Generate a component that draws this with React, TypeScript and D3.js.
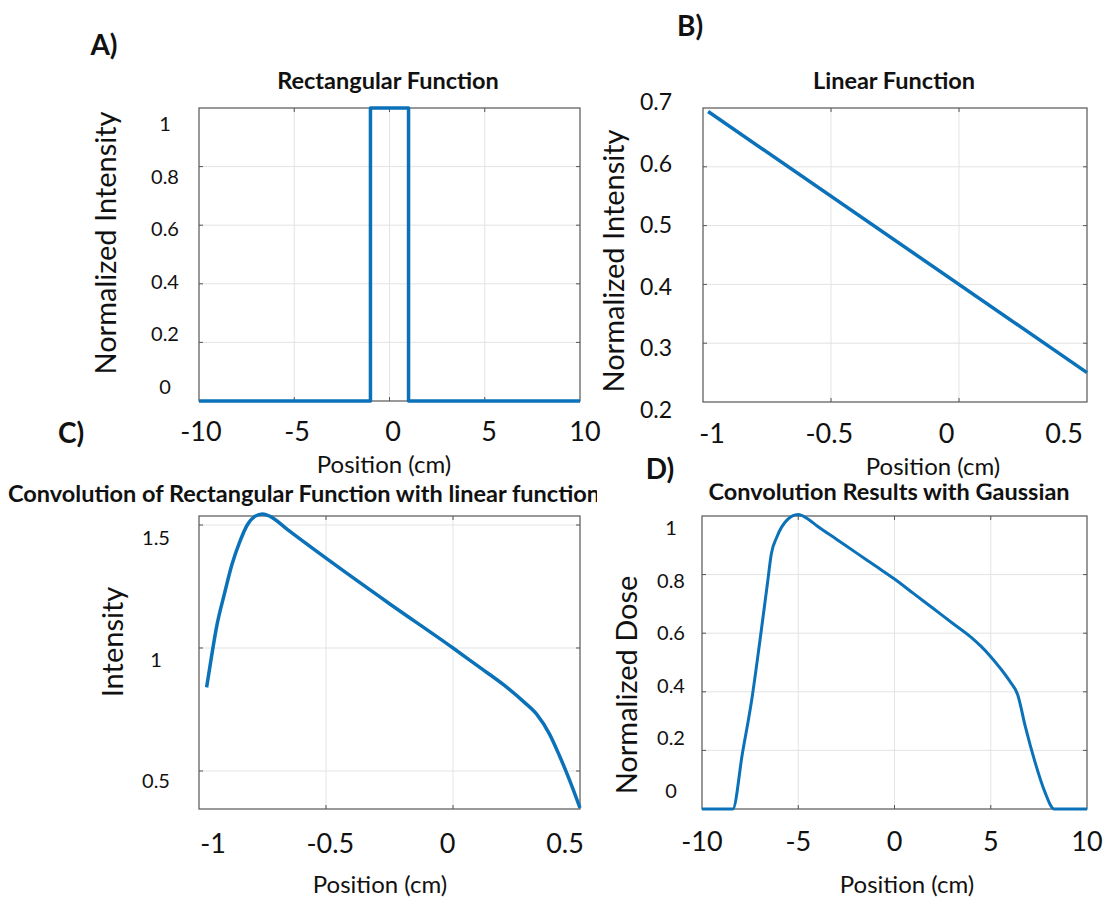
import React from "react";
import * as d3 from "d3";

// ---------- data ----------
const rectX = [-10, -1, -1, 1, 1, 10];
const rectY = [0, 0, 1, 1, 0, 0];

const linX = [-0.98, 0.5];
const linY = [0.694, 0.25];

const convLinX = [-0.97, -0.95, -0.93, -0.9, -0.87, -0.84, -0.81, -0.78, -0.75, -0.72, -0.65, -0.5, -0.25, 0, 0.1, 0.2, 0.28, 0.33, 0.38, 0.42, 0.46, 0.5];
const convLinY = [0.84, 0.97, 1.09, 1.22, 1.34, 1.43, 1.5, 1.535, 1.545, 1.535, 1.48, 1.365, 1.18, 1.0, 0.925, 0.85, 0.78, 0.73, 0.65, 0.56, 0.46, 0.35];

const convGaussX = [-10, -8.4, -7.9, -7.4, -7.0, -6.6, -6.4, -6.1, -5.6, -5.0, -4.5, -4, -3, -2, -1, 0, 1, 2, 3, 4, 4.5, 5, 5.5, 6, 6.4, 6.8, 7.3, 7.8, 8.3, 10];
const convGaussY = [0, 0, 0.19, 0.38, 0.57, 0.77, 0.87, 0.93, 0.985, 1.005, 0.99, 0.965, 0.92, 0.875, 0.83, 0.785, 0.735, 0.685, 0.635, 0.585, 0.555, 0.52, 0.48, 0.435, 0.39, 0.28, 0.16, 0.06, 0, 0];

const ticksA_X = [-10, -5, 0, 5, 10];
const ticksA_Y = [0, 0.2, 0.4, 0.6, 0.8, 1];
const ticksB_X = [-1, -0.5, 0, 0.5];
const ticksB_Y = [0.2, 0.3, 0.4, 0.5, 0.6, 0.7];
const ticksC_X = [-1, -0.5, 0, 0.5];
const ticksC_Y = [0.5, 1, 1.5];
const ticksD_X = [-10, -5, 0, 5, 10];
const ticksD_Y = [0, 0.2, 0.4, 0.6, 0.8, 1];

const BLUE = "#0b72b9";
const FONT = "Lato, 'Open Sans', sans-serif";

type PanelCfg = {
  box: [number, number, number, number]; // x0,x1,y0,y1
  xDom: [number, number];
  yDom: [number, number];
  xs: number[];
  ys: number[];
  xTicks: number[];
  yTicks: number[];
  xLab: [number, number, number];
  yLab: [number, number, number];
  yLabSize: number;
  curve: any;
  width: number;
};

function Panel({ c }: { c: PanelCfg }) {
  const [x0, x1, y0, y1] = c.box;
  const x = d3.scaleLinear().domain(c.xDom).range([x0, x1]);
  const y = d3.scaleLinear().domain(c.yDom).range([y1, y0]);
  const xl = d3.scaleLinear().domain([c.xTicks[0], c.xTicks[c.xTicks.length - 1]]).range([c.xLab[0], c.xLab[1]]);
  const yl = d3.scaleLinear().domain([c.yTicks[0], c.yTicks[c.yTicks.length - 1]]).range([c.yLab[0], c.yLab[1]]);
  const pts = c.xs.map((v, i) => [v, c.ys[i]] as [number, number]);
  const line = d3.line<[number, number]>().x(d => x(d[0])).y(d => y(d[1])).curve(c.curve);
  const gx = c.xTicks.filter(t => x(t) > x0 + 1 && x(t) < x1 - 1);
  const gy = c.yTicks.filter(t => y(t) > y0 + 1 && y(t) < y1 - 1);
  const fmt = (v: number) => String(v);
  return (
    <g>
      <rect x={x0} y={y0} width={x1 - x0} height={y1 - y0} fill="#fff" />
      {gx.map(t => (
        <line key={"gx" + t} x1={x(t)} x2={x(t)} y1={y0} y2={y1} stroke="#e3e3e3" strokeWidth={1} />
      ))}
      {gy.map(t => (
        <line key={"gy" + t} x1={x0} x2={x1} y1={y(t)} y2={y(t)} stroke="#e3e3e3" strokeWidth={1} />
      ))}
      {gx.map(t => (
        <g key={"tx" + t}>
          <line x1={x(t)} x2={x(t)} y1={y1} y2={y1 - 4} stroke="#555" />
          <line x1={x(t)} x2={x(t)} y1={y0} y2={y0 + 4} stroke="#555" />
        </g>
      ))}
      {gy.map(t => (
        <g key={"ty" + t}>
          <line x1={x0} x2={x0 + 4} y1={y(t)} y2={y(t)} stroke="#555" />
          <line x1={x1} x2={x1 - 4} y1={y(t)} y2={y(t)} stroke="#555" />
        </g>
      ))}
      <rect x={x0} y={y0} width={x1 - x0} height={y1 - y0} fill="none" stroke="#555" strokeWidth={1.2} />
      <path d={line(pts) || ""} fill="none" stroke={BLUE} strokeWidth={c.width} strokeLinejoin="round" />
      {c.xTicks.map(t => (
        <text key={"lx" + t} x={xl(t)} y={c.xLab[2]} textAnchor="middle" dominantBaseline="central" fontSize={27} fontFamily={FONT} fill="#111">
          {fmt(t)}
        </text>
      ))}
      {c.yTicks.map(t => (
        <text key={"ly" + t} x={c.yLab[2]} y={yl(t)} textAnchor="middle" dominantBaseline="central" fontSize={c.yLabSize} fontFamily={FONT} fill="#111">
          {fmt(t)}
        </text>
      ))}
    </g>
  );
}

export default function App() {
  const A: PanelCfg = {
    box: [199, 580, 108, 401], xDom: [-10, 10], yDom: [0, 1],
    xs: rectX, ys: rectY, xTicks: ticksA_X, yTicks: ticksA_Y,
    xLab: [201, 585, 430], yLab: [386, 123, 165], yLabSize: 20,
    curve: d3.curveLinear, width: 3.5,
  };
  const B: PanelCfg = {
    box: [703, 1087, 108, 402], xDom: [-1, 0.5], yDom: [0.2, 0.7],
    xs: linX, ys: linY, xTicks: ticksB_X, yTicks: ticksB_Y,
    xLab: [712, 1064, 432], yLab: [409, 101, 656], yLabSize: 23,
    curve: d3.curveLinear, width: 3.5,
  };
  const C: PanelCfg = {
    box: [199, 580, 516, 809], xDom: [-1, 0.5], yDom: [0.3455, 1.5366],
    xs: convLinX, ys: convLinY, xTicks: ticksC_X, yTicks: ticksC_Y,
    xLab: [213, 565, 842], yLab: [780, 537, 156], yLabSize: 20,
    curve: d3.curveMonotoneX, width: 3.5,
  };
  const D: PanelCfg = {
    box: [702, 1087, 516, 809], xDom: [-10, 10], yDom: [0, 1],
    xs: convGaussX, ys: convGaussY, xTicks: ticksD_X, yTicks: ticksD_Y,
    xLab: [702, 1087, 840], yLab: [790, 527, 671], yLabSize: 20,
    curve: d3.curveMonotoneX, width: 3,
  };
  const titleStyle = { fontFamily: FONT, fontWeight: 700, fontSize: 23.5, fill: "#111" } as const;
  const letterStyle = { fontFamily: FONT, fontWeight: 700, fontSize: 28, fill: "#111" } as const;
  const axStyle = { fontFamily: FONT, fontSize: 24, fill: "#111" } as const;
  const yStyle = { fontFamily: FONT, fontSize: 29, fill: "#111" } as const;
  return (
    <svg width={1105} height={897} style={{ position: "absolute", left: 0, top: 0, background: "#fff" }}>
      <defs>
        <clipPath id="clipC"><rect x={0} y={470} width={597} height={45} /></clipPath>
        <clipPath id="clipD"><rect x={600} y={483.5} width={505} height={31} /></clipPath>
      </defs>
      <rect width={1105} height={897} fill="#fff" />
      <Panel c={A} />
      <Panel c={B} />
      <Panel c={C} />
      <Panel c={D} />

      <text x={104} y={44} textAnchor="middle" dominantBaseline="central" {...letterStyle}>A)</text>
      <text x={690} y={25} textAnchor="middle" dominantBaseline="central" {...letterStyle}>B)</text>
      <text x={71} y={432} textAnchor="middle" dominantBaseline="central" {...letterStyle}>C)</text>
      <text x={660} y={468} textAnchor="middle" dominantBaseline="central" {...letterStyle}>D)</text>

      <text x={388} y={80} textAnchor="middle" dominantBaseline="central" {...titleStyle}>Rectangular Function</text>
      <text x={894} y={80} textAnchor="middle" dominantBaseline="central" {...titleStyle}>Linear Function</text>
      <g clipPath="url(#clipC)">
        <text x={8} y={493} textAnchor="start" dominantBaseline="central" {...titleStyle}>Convolution of Rectangular Function with linear function</text>
      </g>
      <g clipPath="url(#clipD)">
        <text x={889} y={491} textAnchor="middle" dominantBaseline="central" {...titleStyle}>Convolution Results with Gaussian</text>
      </g>

      <text x={384} y={463} textAnchor="middle" dominantBaseline="central" {...axStyle}>Position (cm)</text>
      <text x={933} y={465} textAnchor="middle" dominantBaseline="central" {...axStyle}>Position (cm)</text>
      <text x={380} y={883} textAnchor="middle" dominantBaseline="central" {...axStyle}>Position (cm)</text>
      <text x={907} y={883} textAnchor="middle" dominantBaseline="central" {...axStyle}>Position (cm)</text>

      <text transform="translate(104,243) rotate(-90)" textAnchor="middle" dominantBaseline="central" {...yStyle}>Normalized Intensity</text>
      <text transform="translate(612,261) rotate(-90)" textAnchor="middle" dominantBaseline="central" {...yStyle}>Normalized Intensity</text>
      <text transform="translate(111,642) rotate(-90)" textAnchor="middle" dominantBaseline="central" {...yStyle}>Intensity</text>
      <text transform="translate(625,685) rotate(-90)" textAnchor="middle" dominantBaseline="central" {...yStyle}>Normalized Dose</text>
    </svg>
  );
}
